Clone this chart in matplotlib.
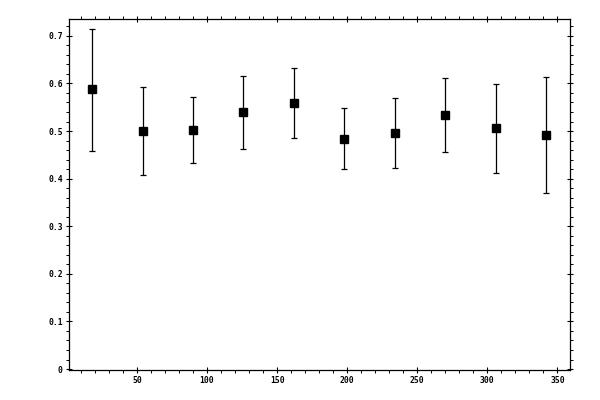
import matplotlib
matplotlib.use("Agg")
import matplotlib.pyplot as plt
import numpy as np
from matplotlib.ticker import MultipleLocator, FormatStrFormatter

# bin centres (degrees) and measured values with lower / upper bounds
angles = [18, 54, 90, 126, 162, 198, 234, 270, 306, 342]
values = [0.588, 0.500, 0.502, 0.540, 0.559, 0.483, 0.496, 0.533, 0.506, 0.491]
lower = [0.458, 0.407, 0.432, 0.462, 0.485, 0.420, 0.422, 0.456, 0.411, 0.370]
upper = [0.715, 0.592, 0.571, 0.615, 0.632, 0.548, 0.569, 0.611, 0.598, 0.613]

x = np.array(angles)
y = np.array(values)
yerr = [y - np.array(lower), np.array(upper) - y]

fig = plt.figure(figsize=(6, 4), dpi=100)
ax = fig.add_axes([0.115, 0.075, 0.835, 0.877])

ax.errorbar(x, y, yerr=yerr, fmt="s", color="black", ms=5.5,
            elinewidth=0.9, capsize=2.2, capthick=0.9)

ax.set_xlim(1.5, 359)
ax.set_ylim(-0.002, 0.735)

ax.xaxis.set_major_locator(MultipleLocator(50))
ax.xaxis.set_minor_locator(MultipleLocator(10))
ax.yaxis.set_major_locator(MultipleLocator(0.1))
ax.yaxis.set_minor_locator(MultipleLocator(0.02))


def ylab(v, pos):
    return "0" if abs(v) < 1e-9 else f"{v:.1f}"


ax.yaxis.set_major_formatter(plt.FuncFormatter(ylab))
ax.xaxis.set_major_formatter(FormatStrFormatter("%d"))

for sp in ax.spines.values():
    sp.set_linewidth(0.9)

ax.tick_params(which="major", direction="inout", length=5, width=0.8,
               top=True, right=True, labelsize=5.8, pad=2)
ax.tick_params(which="minor", direction="out", length=2.4, width=0.7,
               top=True, right=True)
for lab in ax.get_xticklabels() + ax.get_yticklabels():
    lab.set_family("DejaVu Sans Mono")
    lab.set_fontweight("bold")

fig.savefig("out.png", dpi=100)
